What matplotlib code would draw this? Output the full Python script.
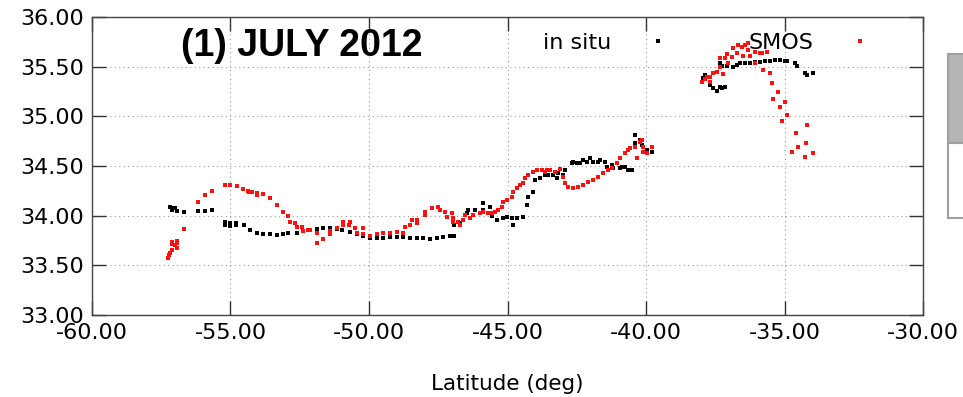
import numpy as np
import matplotlib
matplotlib.use("Agg")
import matplotlib.pyplot as plt
from matplotlib.patches import Rectangle
from matplotlib import font_manager

# in situ salinity along the track (latitude, psu)
insitu_lat = [
    -57.18, -57.11, -57.11, -57.00, -56.93, -56.68, -56.17, -55.92, -55.67,
    -55.20, -55.20, -55.02, -55.02, -54.80, -54.80, -54.51, -54.30, -54.04, -53.83, -53.57,
    -53.32, -53.10, -52.92, -52.60, -52.38, -52.13, -51.88, -51.66, -51.41, -51.16,
    -50.97, -50.69, -50.43, -50.22, -49.96, -49.71, -49.49, -49.24, -48.99, -48.77,
    -48.52, -48.27, -48.05, -47.80, -47.55, -47.33, -47.08, -46.93, -46.93, -46.71,
    -46.46, -46.43, -46.17, -45.88, -45.88, -45.63, -45.56, -45.38, -45.16, -45.02,
    -44.84, -44.80, -44.66, -44.44, -44.30, -44.26, -44.08, -44.01, -43.83, -43.65,
    -43.54, -43.36, -43.21, -43.18, -43.00, -42.92, -42.67, -42.64, -42.49, -42.38,
    -42.27, -42.13, -42.02, -41.91, -41.73, -41.66, -41.48, -41.41, -41.23, -41.19,
    -40.94, -40.87, -40.76, -40.65, -40.51, -40.40, -40.40, -40.22, -40.14, -39.96, -39.78,
    -37.94, -37.87, -37.69, -37.58, -37.44, -37.33, -37.26, -37.15, -37.33, -37.26,
    -37.08, -36.86, -36.71, -36.61, -36.43, -36.25, -36.06, -35.88, -35.70, -35.52,
    -35.34, -35.16, -34.98, -34.91, -34.62, -34.55, -34.26, -34.19, -33.97,
]
insitu_sss = [
    34.09, 34.08, 34.06, 34.08, 34.05, 34.04, 34.05, 34.05, 34.06,
    33.94, 33.91, 33.93, 33.90, 33.93, 33.91, 33.91, 33.86, 33.83, 33.82, 33.82,
    33.81, 33.82, 33.83, 33.83, 33.85, 33.86, 33.87, 33.88, 33.88, 33.87,
    33.86, 33.84, 33.82, 33.80, 33.78, 33.78, 33.78, 33.79, 33.79, 33.79,
    33.78, 33.78, 33.78, 33.77, 33.78, 33.79, 33.80, 33.80, 33.91, 33.93,
    34.03, 34.06, 34.06, 34.13, 34.06, 34.09, 34.00, 33.96, 33.98, 33.99,
    33.98, 33.91, 33.98, 33.99, 34.11, 34.19, 34.24, 34.36, 34.38, 34.41,
    34.41, 34.41, 34.38, 34.43, 34.41, 34.46, 34.53, 34.54, 34.53, 34.53,
    34.56, 34.54, 34.58, 34.54, 34.54, 34.56, 34.54, 34.49, 34.51, 34.48,
    34.48, 34.49, 34.49, 34.46, 34.46, 34.81, 34.73, 34.76, 34.71, 34.66, 34.64,
    35.39, 35.42, 35.32, 35.29, 35.26, 35.30, 35.29, 35.30, 35.54, 35.51,
    35.51, 35.50, 35.52, 35.54, 35.54, 35.54, 35.55, 35.55, 35.56, 35.56,
    35.57, 35.57, 35.56, 35.56, 35.54, 35.51, 35.44, 35.42, 35.44,
]

# SMOS salinity on the same track
smos_lat = [
    -57.26, -57.22, -57.18, -57.11, -57.11, -57.11, -57.00, -56.93, -56.93, -56.93,
    -56.68, -56.17, -55.92, -55.67, -55.20, -55.02, -54.77, -54.55, -54.37, -54.33,
    -54.22, -54.04, -54.04, -53.83, -53.57, -53.32, -53.10, -52.92, -52.85, -52.67,
    -52.60, -52.42, -52.38, -52.20, -52.13, -51.88, -51.88, -51.66, -51.41, -51.41,
    -51.16, -50.94, -50.94, -50.69, -50.72, -50.51, -50.43, -50.22, -50.22, -49.96,
    -49.71, -49.49, -49.24, -48.99, -48.77, -48.70, -48.52, -48.45, -48.27, -48.27,
    -47.98, -47.98, -47.73, -47.51, -47.44, -47.26, -47.18, -47.00, -46.97, -46.97,
    -46.79, -46.71, -46.61, -46.53, -46.35, -46.25, -45.99, -45.88, -45.70, -45.56,
    -45.45, -45.34, -45.20, -45.16, -45.02, -44.84, -44.80, -44.66, -44.55, -44.44,
    -44.37, -44.26, -44.08, -43.94, -43.75, -43.65, -43.57, -43.47, -43.29, -43.10,
    -43.00, -42.92, -42.82, -42.64, -42.45, -42.27, -42.09, -41.91, -41.73, -41.55,
    -41.37, -41.23, -41.05, -40.94, -40.76, -40.65, -40.58, -40.40, -40.32, -40.22,
    -40.14, -40.11, -40.11, -39.96, -39.78,
    -37.98, -37.87, -37.80, -37.69, -37.69, -37.58, -37.44, -37.33, -37.33, -37.22,
    -37.15, -37.08, -37.04, -36.90, -36.86, -36.71, -36.68, -36.53, -36.50, -36.43,
    -36.32, -36.32, -36.25, -36.06, -36.06, -35.88, -35.81, -35.78, -35.63, -35.52,
    -35.45, -35.23, -35.42, -34.98, -35.16, -34.91, -35.09, -34.19, -34.58, -34.22,
    -34.51, -34.73, -33.97, -34.26,
]
smos_sss = [
    33.57, 33.60, 33.62, 33.65, 33.72, 33.74, 33.70, 33.73, 33.75, 33.67,
    33.87, 34.14, 34.21, 34.25, 34.31, 34.31, 34.30, 34.27, 34.25, 34.24,
    34.24, 34.23, 34.21, 34.22, 34.18, 34.11, 34.04, 34.00, 33.94, 33.93,
    33.89, 33.89, 33.85, 33.86, 33.86, 33.73, 33.83, 33.77, 33.82, 33.85,
    33.88, 33.94, 33.91, 33.94, 33.91, 33.88, 33.83, 33.88, 33.82, 33.80,
    33.82, 33.83, 33.83, 33.84, 33.83, 33.89, 33.91, 33.96, 33.96, 33.93,
    34.01, 34.04, 34.08, 34.09, 34.06, 34.04, 33.99, 34.03, 33.98, 33.94,
    33.94, 33.91, 33.96, 34.01, 33.98, 34.01, 34.03, 34.04, 34.03, 34.03,
    34.04, 34.06, 34.09, 34.14, 34.16, 34.19, 34.24, 34.28, 34.31, 34.33,
    34.38, 34.41, 34.44, 34.46, 34.46, 34.44, 34.46, 34.46, 34.44, 34.47,
    34.39, 34.33, 34.29, 34.28, 34.29, 34.31, 34.34, 34.36, 34.39, 34.43,
    34.46, 34.48, 34.53, 34.58, 34.63, 34.66, 34.68, 34.69, 34.58, 34.74,
    34.76, 34.64, 34.69, 34.63, 34.69,
    35.35, 35.38, 35.40, 35.35, 35.40, 35.44, 35.45, 35.50, 35.59, 35.43,
    35.59, 35.63, 35.54, 35.60, 35.69, 35.64, 35.72, 35.70, 35.61, 35.72,
    35.74, 35.67, 35.61, 35.65, 35.54, 35.64, 35.64, 35.47, 35.65, 35.44,
    35.34, 35.25, 35.18, 35.14, 35.09, 35.01, 34.95, 34.91, 34.83, 34.73,
    34.69, 34.64, 34.63, 34.59,
]

xticks = np.arange(-60, -29, 5)
yticks = np.arange(33.0, 36.01, 0.5)

# bold Liberation Sans, not the Narrow variant
title_font = None
for f in font_manager.fontManager.ttflist:
    if f.name == 'Liberation Sans' and f.weight in (700, 'bold') and f.style == 'normal' \
            and 'Narrow' not in f.fname:
        title_font = font_manager.FontProperties(fname=f.fname, size=27)
        break
if title_font is None:
    title_font = font_manager.FontProperties(family='DejaVu Sans', weight='bold', size=25)

fig = plt.figure(figsize=(9.63, 3.97), dpi=100)
ax = fig.add_axes([0.0955, 0.2065, 0.863, 0.7505])

ax.plot(insitu_lat, insitu_sss, 's', color='black', markersize=3.5, markeredgewidth=0, label='in situ')
ax.plot(smos_lat, smos_sss, 's', color='#ff1010', markersize=3.5, markeredgewidth=0, label='SMOS')

ax.set_xlim(-60, -30)
ax.set_ylim(33, 36)
ax.set_xticks(xticks)
ax.set_yticks(yticks)
ax.set_xticklabels(['%.2f' % v for v in xticks])
ax.set_yticklabels(['%.2f' % v for v in yticks])
ax.tick_params(direction='in', length=10, width=1, top=True, right=True,
               labelsize=16, pad=6, color='#333333')
ax.grid(True, linestyle=(0, (1, 3)), color='#999999', linewidth=0.8)
for s in ax.spines.values():
    s.set_color('#444444')
    s.set_linewidth(1)
ax.set_xlabel('Latitude (deg)', fontsize=15.5, labelpad=22)

ax.text(0.2527, 0.903, '(1) JULY 2012', transform=ax.transAxes, ha='center', va='center',
        fontproperties=title_font)

ax.legend(loc='center left', bbox_to_anchor=(0.543, 0.913), ncol=2, markerfirst=False,
          frameon=False, fontsize=16, handlelength=1.0, handletextpad=1.6,
          columnspacing=3.55, borderpad=0, borderaxespad=0, markerscale=1.0)

# neighbouring panel edge on the right
fig.patches.append(Rectangle((948 / 963, 1 - 143 / 397), 0.03, (143 - 54) / 397,
                             transform=fig.transFigure, facecolor='#b5b5b5',
                             edgecolor='#a0a0a0', linewidth=1.5))
fig.patches.append(Rectangle((948 / 963, 1 - 218 / 397), 0.03, (218 - 143) / 397,
                             transform=fig.transFigure, facecolor='white',
                             edgecolor='#a0a0a0', linewidth=1.5))

fig.savefig('out.png', dpi=100)
